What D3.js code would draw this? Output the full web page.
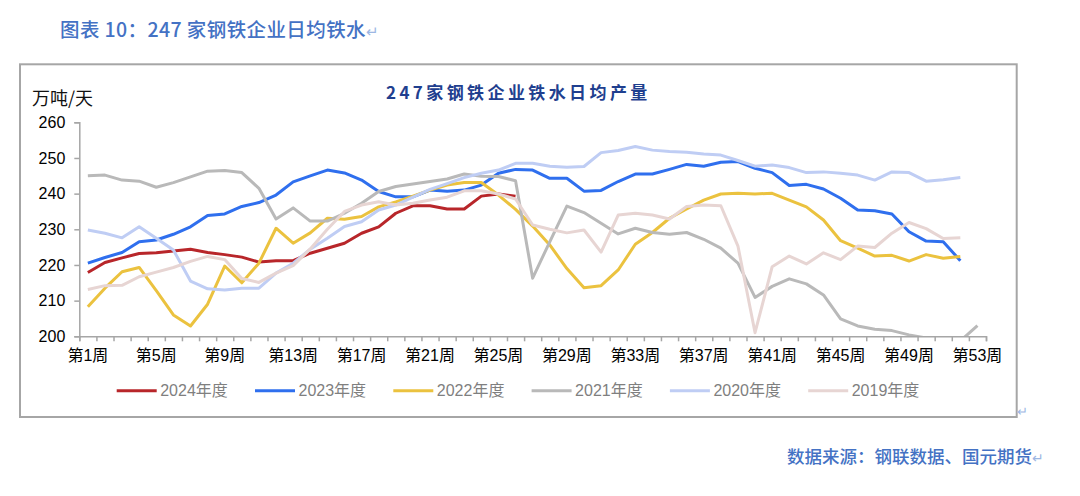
<!DOCTYPE html>
<html>
<head>
<meta charset="utf-8">
<script src="https://cdn.jsdelivr.net/npm/d3@7"></script>
<style>
  body { margin: 0; background: #fff; }
  svg { display: block; }
</style>
</head>
<body>
<script>
// weeks 1..53, labels every 4 weeks
var weeks = d3.range(1, 54);
var weekLabels = [1, 5, 9, 13, 17, 21, 25, 29, 33, 37, 41, 45, 49, 53];
var yTicks = [200, 210, 220, 230, 240, 250, 260];

var seriesNames = ["2024年度", "2023年度", "2022年度", "2021年度", "2020年度", "2019年度"];

var y2024 = [217.9, 220.7, 222.0, 223.2, 223.4, 223.9, 224.4, 223.5, 222.9, 222.2, 220.8, 221.2, 221.2, 223.3, 224.7, 226.1, 228.9, 230.7, 234.5, 236.6, 236.6, 235.7, 235.7, 239.3, 239.9, 239.3];
var y2023 = [220.5, 222.1, 223.5, 226.5, 227.0, 228.6, 230.7, 233.9, 234.3, 236.4, 237.5, 239.6, 243.3, 245.0, 246.6, 245.8, 243.8, 240.6, 239.1, 239.1, 241.0, 240.7, 241.0, 242.4, 245.7, 246.8, 246.6, 244.3, 244.3, 240.7, 240.9, 243.4, 245.5, 245.5, 246.8, 248.2, 247.7, 248.8, 249.0, 247.1, 245.9, 242.3, 242.6, 241.3, 238.7, 235.4, 235.2, 234.3, 229.3, 226.7, 226.5, 221.2];
var y2022 = [208.3, 213.5, 218.1, 219.3, 212.8, 206.0, 202.9, 209.0, 219.7, 215.0, 220.5, 230.3, 226.1, 229.0, 233.1, 232.8, 233.6, 236.3, 237.7, 239.3, 241.0, 242.4, 243.1, 243.1, 239.6, 235.6, 230.9, 225.6, 219.0, 213.6, 214.2, 218.6, 225.8, 229.1, 233.1, 235.7, 238.2, 239.9, 240.1, 239.9, 240.1, 238.2, 236.3, 232.6, 226.8, 224.7, 222.5, 222.7, 221.1, 222.9, 221.9, 222.4];
var y2021 = [245.0, 245.2, 243.8, 243.5, 241.8, 243.1, 244.7, 246.3, 246.5, 245.9, 241.5, 232.9, 236.0, 232.3, 232.3, 234.5, 237.3, 240.6, 242.0, 242.7, 243.4, 244.1, 245.5, 244.9, 244.8, 243.6, 216.3, 226.5, 236.5, 234.7, 231.7, 228.7, 230.3, 229.1, 228.6, 229.1, 227.2, 224.7, 220.5, 210.9, 214.0, 216.1, 214.7, 211.6, 204.9, 202.9, 202.0, 201.6, 200.4, 199.5, 198.5, 198.7, 203.0];
var y2020 = [229.8, 228.9, 227.6, 230.7, 227.5, 224.2, 215.5, 213.3, 213.0, 213.5, 213.5, 217.7, 220.5, 224.4, 227.5, 230.8, 232.1, 235.4, 236.8, 239.0, 241.2, 242.8, 244.5, 245.7, 246.6, 248.5, 248.5, 247.7, 247.4, 247.6, 251.5, 252.1, 253.2, 252.2, 251.8, 251.6, 251.1, 250.8, 249.3, 247.7, 248.0, 247.3, 245.9, 246.1, 245.7, 245.2, 243.8, 246.1, 245.9, 243.5, 243.9, 244.5];
var y2019 = [213.1, 214.2, 214.3, 216.7, 218.0, 219.3, 221.0, 222.4, 221.5, 216.2, 215.1, 217.7, 219.8, 224.5, 230.0, 235.0, 236.8, 237.7, 236.8, 237.3, 238.2, 239.0, 240.8, 240.8, 239.9, 238.5, 231.2, 230.0, 229.0, 229.8, 223.6, 234.0, 234.5, 234.0, 232.9, 236.4, 236.8, 236.6, 225.3, 201.0, 219.5, 222.5, 220.3, 223.4, 221.5, 225.3, 224.9, 228.9, 231.9, 230.2, 227.4, 227.6];

var seriesValues = [y2024, y2023, y2022, y2021, y2020, y2019];
var colors = ["#b8262a", "#2f6fee", "#ebc23f", "#b9b9b9", "#bfcdf4", "#e7d5d3"];

(function(){
var W = 1080, H = 496;
var plotLeft = 79.3, plotRight = 986, plotTop = 122.3, plotBottom = 336.3;

var svg = d3.select("body").append("svg")
    .attr("width", W)
    .attr("height", H);

var cnFont = "'Noto Sans CJK SC', sans-serif";
var numFont = "'Liberation Sans', 'Noto Sans CJK SC', sans-serif";

// page heading
var head = svg.append("text")
    .attr("x", 60)
    .attr("y", 37)
    .style("font-family", cnFont)
    .style("font-size", "19.5px")
    .style("font-weight", "500")
    .style("letter-spacing", "0.4px")
    .style("fill", "#4472c4");
head.append("tspan").text("图表 10：247 家钢铁企业日均铁水");
head.append("tspan").style("fill", "#9db7e3").style("font-size", "15px").text("↵");

// chart frame
svg.append("rect")
    .attr("x", 20)
    .attr("y", 64.3)
    .attr("width", 996.7)
    .attr("height", 352.7)
    .style("fill", "none")
    .style("stroke", "#a6a6a6")
    .style("stroke-width", 2);

svg.append("text")
    .attr("x", 1017)
    .attr("y", 416)
    .style("font-family", cnFont)
    .style("font-size", "13px")
    .style("fill", "#9db7e3")
    .text("↵");

// chart title
svg.append("text")
    .attr("x", 386)
    .attr("y", 99)
    .style("font-family", cnFont)
    .style("font-size", "17px")
    .style("font-weight", "bold")
    .style("letter-spacing", "3.4px")
    .style("fill", "#1f3f8f")
    .text("247家钢铁企业铁水日均产量");

svg.append("text")
    .attr("x", 32)
    .attr("y", 105)
    .style("font-family", cnFont)
    .style("font-size", "18px")
    .style("fill", "#111")
    .text("万吨/天");

var x = d3.scaleBand()
    .domain(weeks)
    .range([plotLeft, plotRight])
    .padding(0);

var y = d3.scaleLinear()
    .domain([200, 260])
    .range([plotBottom, plotTop]);

var xEdge = d3.scaleLinear()
    .domain([0, 53])
    .range([plotLeft, plotRight]);

// lines
svg.append("clipPath")
    .attr("id", "plotClip")
  .append("rect")
    .attr("x", plotLeft)
    .attr("y", plotTop - 20)
    .attr("width", plotRight - plotLeft + 10)
    .attr("height", plotBottom - plotTop + 20);

var line = d3.line()
    .x(function(d, i) { return x(weeks[i]) + x.bandwidth() / 2; })
    .y(function(d) { return y(d); });

var plot = svg.append("g").attr("clip-path", "url(#plotClip)");

plot.selectAll(".series")
    .data(seriesValues)
  .enter().append("path")
    .attr("class", "series")
    .attr("d", line)
    .style("fill", "none")
    .style("stroke", function(d, i) { return colors[i]; })
    .style("stroke-width", 3)
    .style("stroke-linejoin", "round");

// y axis
var yAxis = svg.append("g")
    .attr("transform", "translate(" + plotLeft + ",0)")
    .call(d3.axisLeft(y).tickValues(yTicks).tickSize(5).tickPadding(9));

// x tick marks at week boundaries
var xTickAxis = svg.append("g")
    .attr("transform", "translate(0," + plotBottom + ")")
    .call(d3.axisBottom(xEdge).tickValues(d3.range(0, 54)).tickSize(5).tickFormat(""));

// x labels
var xAxis = svg.append("g")
    .attr("transform", "translate(0," + plotBottom + ")")
    .call(d3.axisBottom(x).tickValues(weekLabels).tickSize(0).tickPadding(13)
        .tickFormat(function(d) { return "第" + d + "周"; }));
xAxis.select(".domain").remove();

[yAxis, xTickAxis].forEach(function(g) {
    g.selectAll("path, line").style("stroke", "#a6a6a6").style("stroke-width", 1.5);
});
[yAxis, xAxis].forEach(function(g) {
    g.selectAll("text")
        .style("font-family", numFont)
        .style("font-size", "16px")
        .style("fill", "#000");
});

// legend
var legend = svg.selectAll(".legend")
    .data(seriesNames)
  .enter().append("g")
    .attr("class", "legend")
    .attr("transform", function(d, i) { return "translate(" + (116.7 + i * 138.3) + ",390.7)"; });

legend.append("line")
    .attr("x1", 0)
    .attr("x2", 40)
    .style("stroke", function(d, i) { return colors[i]; })
    .style("stroke-width", 3);

legend.append("text")
    .attr("x", 43.5)
    .attr("dy", "0.35em")
    .style("font-family", numFont)
    .style("font-size", "16px")
    .style("fill", "#7f7f7f")
    .text(function(d) { return d; });

// source note
var src = svg.append("text")
    .attr("x", 787)
    .attr("y", 463)
    .style("font-family", cnFont)
    .style("font-size", "17.5px")
    .style("font-weight", "500")
    .style("fill", "#4472c4");
src.append("tspan").text("数据来源：钢联数据、国元期货");
src.append("tspan").style("fill", "#9db7e3").style("font-size", "14px").text("↵");
})();
</script>
</body>
</html>
